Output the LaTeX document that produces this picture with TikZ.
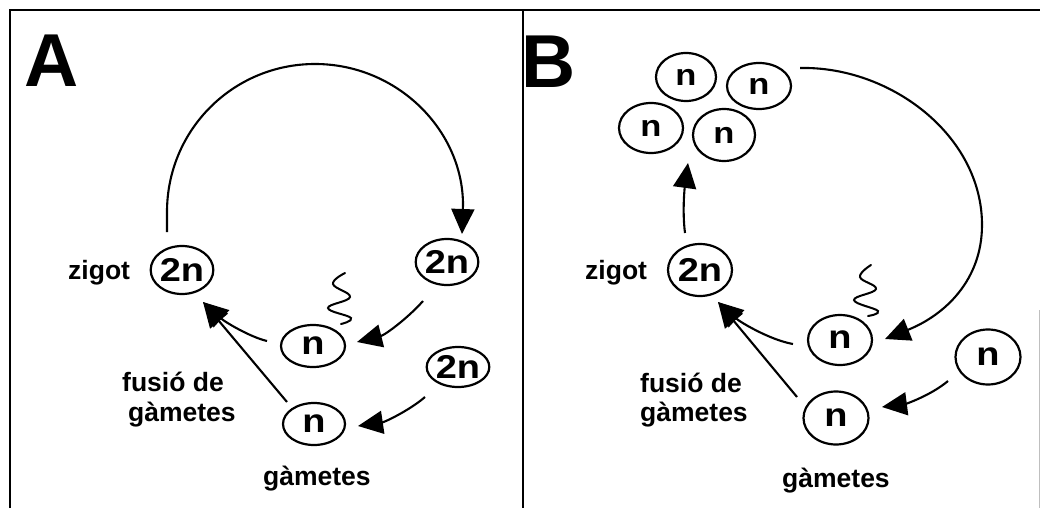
\documentclass[tikz,border=0pt]{standalone}
\usepackage{fontspec}
\setmainfont{Liberation Sans}
\usetikzlibrary{arrows.meta,shapes.geometric}
\newcommand\widetxt[1]{\scalebox{1.15}[1]{#1}}
\begin{document}
\begin{tikzpicture}[x=1pt,y=-1pt,
  cell/.style={draw, ellipse, line width=2.2pt, inner sep=0pt, font=\bfseries\fontsize{33}{33}\selectfont},
  smallcell/.style={cell, font=\bfseries\fontsize{30}{30}\selectfont},
  lab/.style={inner sep=0pt, anchor=base west, font=\bfseries\fontsize{26.5}{30}\selectfont},
  panelletter/.style={inner sep=0pt, anchor=base west, font=\bfseries\fontsize{75}{75}\selectfont},
  arr/.style={line width=2.1pt, -{Triangle[length=25pt,width=23pt]}},
  boxline/.style={line width=2.4pt},
  tail/.style={line width=2pt, line cap=round}]
\useasboundingbox (0,0) rectangle (1040,508);
\fill[white] (0,0) rectangle (1040,508);

% frame
\draw[boxline] (10,508) -- (10,10) -- (1040,10);
\draw[boxline] (523,10) -- (523,508);
\draw[line width=1pt, black!25] (1039,310) -- (1039,508);

% ---------- Panel A ----------
\node[panelletter] (lA) at (24,87) {A};
\node[cell, minimum width=62pt, minimum height=48pt] (zA) at (182,270) {\widetxt{2n}};
\node[cell, minimum width=58pt, minimum height=46pt] (tA1) at (447,262) {\widetxt{2n}};
\node[cell, minimum width=64pt, minimum height=42pt] (nA1) at (313,346) {\widetxt{n}};
\node[cell, minimum width=60pt, minimum height=40pt] (tA2) at (458,367) {\widetxt{2n}};
\node[cell, minimum width=62pt, minimum height=42pt] (nA2) at (314,424) {\widetxt{n}};

\node[lab] (zlA) at (68,279) {zigot};
\node[lab] (fA1) at (122,391) {fusió de};
\node[lab] (fA2) at (128,421) {gàmetes};
\node[lab] (gA) at (263,485) {gàmetes};

\draw[arr] ([shift={(-15,-38)}]zA.center) -- (167,212)
  .. controls (167,130) and (233,64) .. (315,64)
  .. controls (397,64) and (463,130) .. (463,205)
  -- ([shift={(15,-28)}]tA1.center);
\draw[arr] ([shift={(-24,39)}]tA1.center) .. controls (408,318) and (385,335) .. ([shift={(44,-4)}]nA1.center);
\draw[arr] ([shift={(-33,30)}]tA2.center) .. controls (410,410) and (385,422) .. ([shift={(44,2)}]nA2.center);
\draw[arr] ([shift={(-46,-5)}]nA1.center) .. controls (250,337) and (225,322) .. ([shift={(21,32)}]zA.center);
\draw[arr] ([shift={(-27,-22)}]nA2.center) -- ([shift={(21,32)}]zA.center);

\draw[tail] plot[smooth, tension=0.7] coordinates {(341,324) (351,318) (328,308) (350,297) (333,284) (345,273)};

% ---------- Panel B ----------
\node[panelletter] (lB) at (521,88) {B};
\node[smallcell, minimum width=60pt, minimum height=48pt] (TL) at (686,77) {\widetxt{n}};
\node[smallcell, minimum width=64pt, minimum height=46pt] (TR) at (759,86) {\widetxt{n}};
\node[smallcell, minimum width=64pt, minimum height=50pt] (BL) at (651,128) {\widetxt{n}};
\node[smallcell, minimum width=62pt, minimum height=52pt] (BR) at (724,135) {\widetxt{n}};
\node[cell, minimum width=64pt, minimum height=52pt] (zB) at (700,270) {\widetxt{2n}};
\node[cell, minimum width=64pt, minimum height=50pt] (nB1) at (840,340) {\widetxt{n}};
\node[cell, minimum width=65pt, minimum height=55pt] (nR) at (988,357) {\widetxt{n}};
\node[cell, minimum width=65pt, minimum height=53pt] (nB2) at (836,418) {\widetxt{n}};

\node[lab] (zlB) at (585,279) {zigot};
\node[lab] (fB1) at (640,392) {fusió de};
\node[lab] (fB2) at (640,421) {gàmetes};
\node[lab] (gB) at (782,487) {gàmetes};

\draw[arr] ([shift={(-15,-37)}]zB.center) .. controls (682,210) and (685,185) .. ([shift={(-36,28)}]BR.center);
\draw[arr] ([shift={(41,-18)}]TR.center) .. controls (890,66) and (982,135) .. (982,225)
  .. controls (982,280) and (945,315) .. ([shift={(45,-1)}]nB1.center);
\draw[arr] ([shift={(-40,24)}]nR.center) .. controls (930,396) and (905,404) .. ([shift={(46,-11)}]nB2.center);
\draw[arr] ([shift={(-47,4)}]nB1.center) .. controls (770,340) and (740,322) .. ([shift={(18,32)}]zB.center);
\draw[arr] ([shift={(-39,-21)}]nB2.center) -- ([shift={(18,32)}]zB.center);

\draw[tail] plot[smooth, tension=0.7] coordinates {(868,316) (878,311) (854,300) (876,289) (860,277) (871,265)};
\end{tikzpicture}
\end{document}
